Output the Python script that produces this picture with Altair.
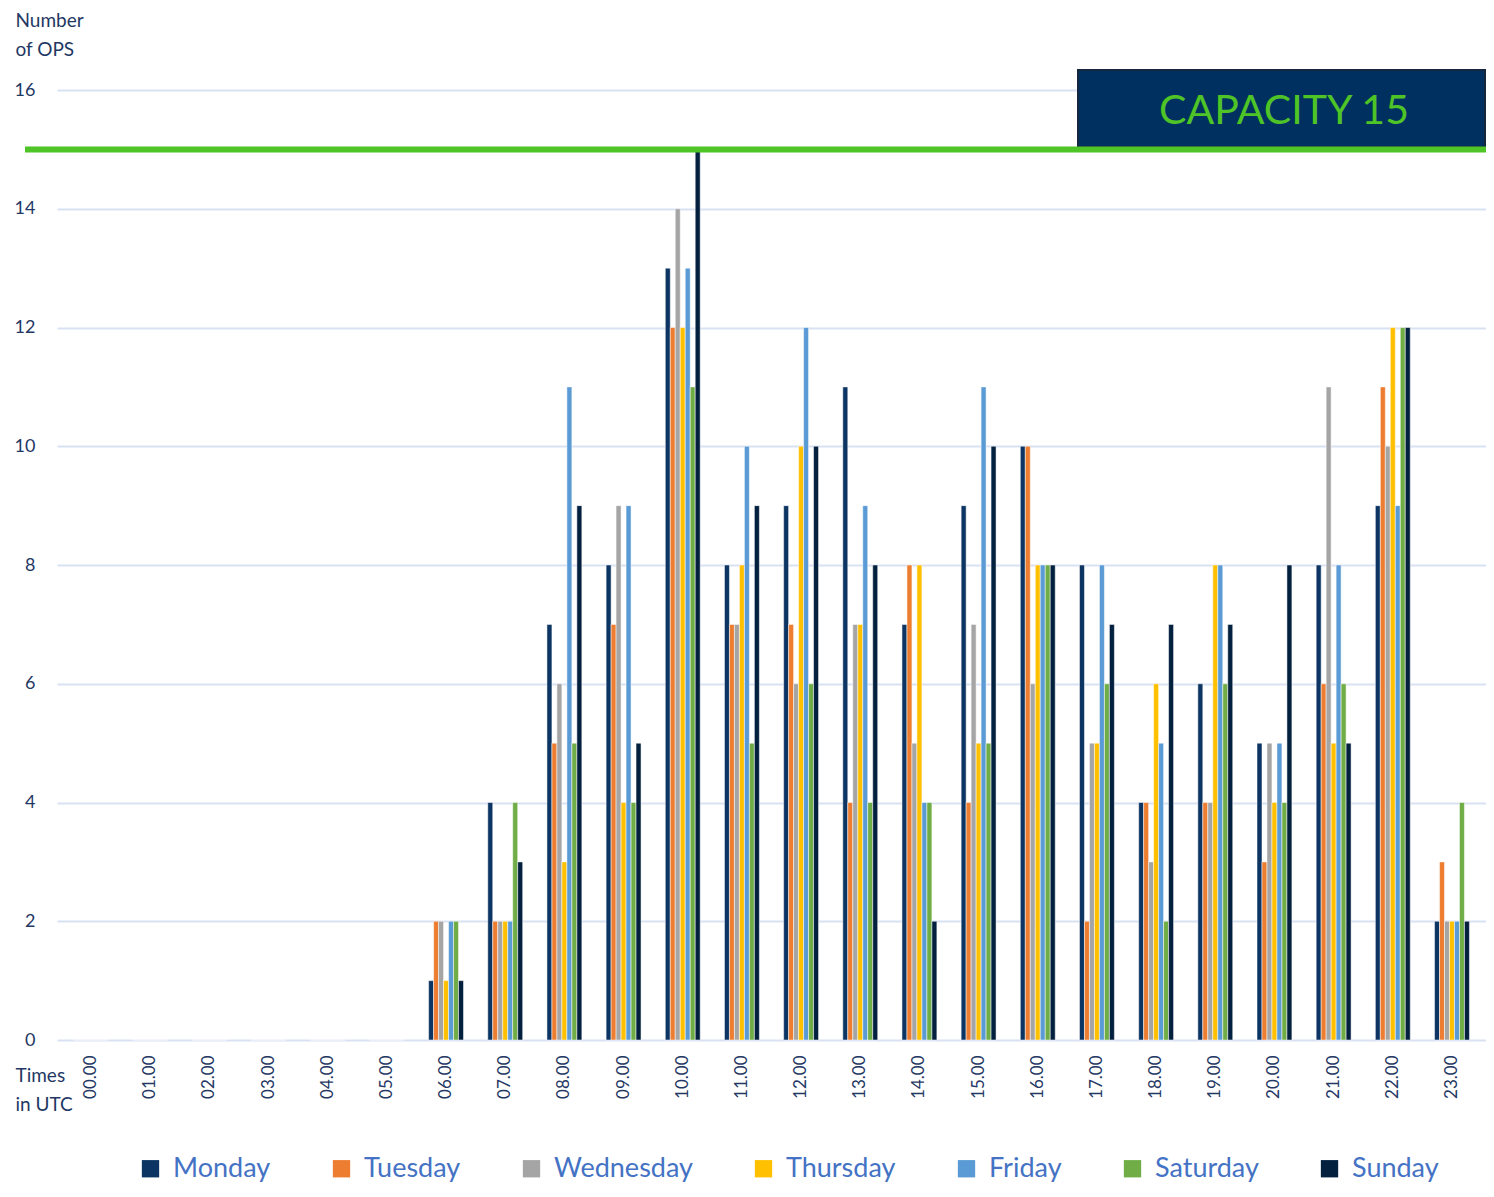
import altair as alt
import pandas as pd

hours = ["00.00", "01.00", "02.00", "03.00", "04.00", "05.00", "06.00", "07.00",
         "08.00", "09.00", "10.00", "11.00", "12.00", "13.00", "14.00", "15.00",
         "16.00", "17.00", "18.00", "19.00", "20.00", "21.00", "22.00", "23.00"]
days = ["Monday", "Tuesday", "Wednesday", "Thursday", "Friday", "Saturday", "Sunday"]

monday    = [0, 0, 0, 0, 0, 0, 1, 4, 7, 8, 13, 8, 9, 11, 7, 9, 10, 8, 4, 6, 5, 8, 9, 2]
tuesday   = [0, 0, 0, 0, 0, 0, 2, 2, 5, 7, 12, 7, 7, 4, 8, 4, 10, 2, 4, 4, 3, 6, 11, 3]
wednesday = [0, 0, 0, 0, 0, 0, 2, 2, 6, 9, 14, 7, 6, 7, 5, 7, 6, 5, 3, 4, 5, 11, 10, 2]
thursday  = [0, 0, 0, 0, 0, 0, 1, 2, 3, 4, 12, 8, 10, 7, 8, 5, 8, 5, 6, 8, 4, 5, 12, 2]
friday    = [0, 0, 0, 0, 0, 0, 2, 2, 11, 9, 13, 10, 12, 9, 4, 11, 8, 8, 5, 8, 5, 8, 9, 2]
saturday  = [0, 0, 0, 0, 0, 0, 2, 4, 5, 4, 11, 5, 6, 4, 4, 5, 8, 6, 2, 6, 4, 6, 12, 4]
sunday    = [0, 0, 0, 0, 0, 0, 1, 3, 9, 5, 15, 9, 10, 8, 2, 10, 8, 7, 7, 7, 8, 5, 12, 2]

capacity = 15
capacity_label = "CAPACITY 15"
colors = ["#0c3563", "#ed7d31", "#a5a5a5", "#ffc000", "#5b9bd5", "#70ad47", "#03203f"]

series = [monday, tuesday, wednesday, thursday, friday, saturday, sunday]
rows = []
for day, vals in zip(days, series):
    for h, v in zip(hours, vals):
        rows.append({"hour": h, "day": day, "ops": v})
df = pd.DataFrame(rows)
one = pd.DataFrame({"k": [0]})

W, H = 1429, 950
NAVY = "#1f3864"
GREEN = "#4fc427"
FONT = "Lato"

bars = alt.Chart(df).mark_bar(stroke="white", strokeWidth=0.5).encode(
    x=alt.X("hour:N", sort=hours,
            scale=alt.Scale(paddingInner=0.41, paddingOuter=0.28),
            axis=alt.Axis(title=["Times", "in UTC"], labelAngle=270, labelPadding=15,
                          labelFontSize=17, labelColor=NAVY, labelFont=FONT,
                          ticks=False, domain=False, grid=False,
                          titleAngle=0, titleAlign="left", titleBaseline="top",
                          titleX=-42, titleY=26, titleFontSize=19, titleFont=FONT,
                          titleFontWeight="normal", titleColor=NAVY, titleLineHeight=29)),
    xOffset=alt.XOffset("day:N", sort=days, scale=alt.Scale(paddingInner=0, paddingOuter=0)),
    y=alt.Y("ops:Q", scale=alt.Scale(domain=[0, 16], nice=False),
            axis=alt.Axis(values=list(range(0, 17, 2)), format="d", title=["Number", "of OPS"],
                          labelPadding=22, labelFontSize=18, labelColor=NAVY, labelFont=FONT,
                          ticks=False, domain=False, grid=True, gridColor="#d9e2f3", gridWidth=2,
                          titleAngle=0, titleAlign="left", titleBaseline="top",
                          titleX=-42, titleY=-79, titleFontSize=19, titleFont=FONT,
                          titleFontWeight="normal", titleColor=NAVY, titleLineHeight=29)),
    color=alt.Color("day:N", sort=days, scale=alt.Scale(domain=days, range=colors),
                    legend=alt.Legend(title=None, orient="none", direction="horizontal",
                                      legendX=80, legendY=1065, symbolType="square",
                                      symbolSize=300, symbolStrokeWidth=0,
                                      labelFontSize=27, labelColor="#4472c4", labelFont=FONT,
                                      labelOffset=9, columnPadding=57)),
)

cap_line = alt.Chart(one).mark_rule(color=GREEN, strokeWidth=6).encode(
    y=alt.datum(capacity), x=alt.value(-32), x2=alt.value(W)
)

cap_box = alt.Chart(one).mark_rect(fill="#00305f", stroke="#15263d", strokeWidth=2).encode(
    x=alt.value(1021), x2=alt.value(W - 1), y=alt.value(-20), y2=alt.value(57)
)

cap_text = alt.Chart(one).mark_text(text=capacity_label, font=FONT, fontSize=41, color=GREEN,
                                    align="center", baseline="middle").encode(
    x=alt.value(1227), y=alt.value(22)
)

chart = alt.layer(bars, cap_box, cap_line, cap_text).properties(
    width=W, height=H,
    autosize=alt.AutoSizeParams(type="none"),
    padding={"left": 49, "top": 82, "right": 0, "bottom": 148},
).configure(font=FONT).configure_view(stroke=None)

chart.save("out.html", embed_options={"renderer": "svg", "actions": False})
